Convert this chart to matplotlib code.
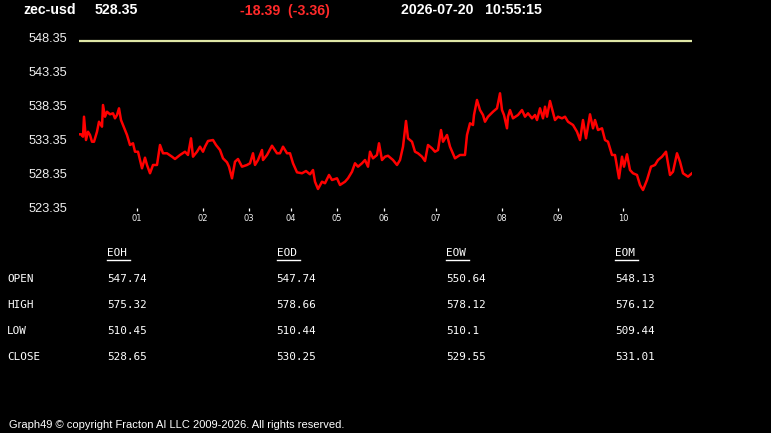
import matplotlib
matplotlib.use("Agg")
import matplotlib.pyplot as plt

# ---------------- data ----------------
symbol = "zec-usd"
last_price = "528.35"
change_text = "-18.39"
change_pct_text = "(-3.36)"
date_text = "2026-07-20"
time_text = "10:55:15"
open_level = 547.74

t = [0, 2, 4, 5, 7, 9, 11, 13, 15, 18,
     20, 23, 24, 26, 28, 31, 34, 36, 38, 40,
     42, 44, 48, 51, 54, 56, 59, 63, 66, 68,
     71, 74, 78, 81, 84, 88, 93, 96, 101, 106,
     109, 112, 114, 118, 121, 124, 126, 129, 134, 137,
     141, 144, 148, 150, 153, 156, 159, 163, 168, 171,
     174, 176, 179, 183, 184, 188, 193, 198, 201, 204,
     208, 211, 214, 218, 223, 227, 231, 234, 236, 239,
     243, 246, 250, 253, 258, 261, 266, 269, 273, 276,
     279, 283, 286, 289, 291, 294, 298, 300, 303, 306,
     309, 314, 318, 321, 324, 327, 329, 333, 336, 339,
     343, 346, 349, 353, 356, 359, 362, 364, 368, 371,
     376, 381, 386, 388, 391, 394, 395, 398, 401, 404,
     406, 409, 414, 418, 421, 423, 425, 428, 429, 431,
     434, 439, 443, 446, 449, 453, 456, 458, 461, 464,
     466, 468, 471, 476, 479, 483, 486, 489, 494, 498,
     501, 504, 507, 511, 514, 516, 519, 523, 526, 529,
     533, 536, 540, 543, 545, 548, 551, 554, 558, 561,
     564, 568, 572, 576, 579, 583, 587, 591, 594, 598,
     601, 604, 609, 613]

price = [534.04, 534.04, 533.69, 536.63, 533.20, 534.42, 533.94, 532.95, 532.95, 534.42,
         535.89, 535.16, 538.35, 536.63, 537.36, 536.98, 537.13, 536.39, 536.88, 537.86,
         536.14, 535.41, 533.94, 532.47, 532.72, 531.48, 531.48, 529.04, 530.60, 529.53,
         528.31, 529.53, 529.53, 532.47, 531.25, 531.25, 530.75, 530.41, 531.00, 531.48,
         531.00, 533.45, 530.75, 531.48, 532.22, 531.48, 532.22, 533.06, 533.20, 532.47,
         531.73, 530.51, 529.92, 529.28, 527.57, 530.01, 530.41, 529.28, 529.53, 529.78,
         531.25, 529.53, 530.26, 531.73, 530.26, 531.00, 532.36, 531.25, 531.25, 532.22,
         531.25, 531.25, 529.78, 528.45, 528.31, 528.64, 528.16, 528.79, 527.07, 526.00,
         527.07, 526.84, 528.06, 527.32, 527.57, 526.59, 527.07, 527.57, 528.54, 529.78,
         529.28, 529.78, 530.26, 529.28, 531.48, 530.51, 531.00, 532.72, 530.26, 530.75,
         530.89, 530.26, 529.53, 530.26, 532.22, 536.00, 533.45, 532.95, 531.48, 531.25,
         530.75, 530.11, 532.47, 531.98, 531.48, 531.73, 534.67, 532.95, 533.94, 532.22,
         530.51, 531.00, 531.00, 533.94, 535.66, 535.41, 536.88, 539.09, 537.61, 536.88,
         535.89, 536.63, 537.36, 537.86, 540.07, 537.61, 536.88, 534.92, 536.63, 537.61,
         536.39, 536.88, 537.61, 536.63, 537.13, 536.39, 536.88, 536.14, 537.86, 536.39,
         538.10, 536.63, 538.94, 536.14, 536.63, 536.39, 536.63, 535.89, 535.41, 534.42,
         533.20, 536.14, 533.45, 536.98, 534.92, 536.14, 534.67, 534.92, 533.20, 532.95,
         531.00, 531.00, 527.57, 530.75, 529.28, 531.10, 528.79, 528.31, 528.06, 526.59,
         525.85, 527.32, 529.28, 529.53, 530.26, 530.75, 531.48, 528.06, 528.54, 531.25,
         530.01, 528.31, 527.81, 528.31]

y_ticks = [523.35, 528.35, 533.35, 538.35, 543.35, 548.35]
x_tick_pos = [58, 124, 170, 212, 258, 305, 357, 423, 479, 544]
x_tick_labels = ["01", "02", "03", "04", "05", "06", "07", "08", "09", "10"]

table_cols = ["EOH", "EOD", "EOW", "EOM"]
table_rows = ["OPEN", "HIGH", "LOW", "CLOSE"]
table_values = [
    ["547.74", "547.74", "550.64", "548.13"],
    ["575.32", "578.66", "578.12", "576.12"],
    ["510.45", "510.44", "510.1", "509.44"],
    ["528.65", "530.25", "529.55", "531.01"],
]
footer = "Graph49 \u00a9 copyright Fracton AI LLC 2009-2026. All rights reserved."

# ---------------- figure ----------------
W, H = 771, 433
fig = plt.figure(figsize=(W / 100, H / 100), dpi=100, facecolor="black")

def fx(px):
    return px / W

def fy(py):
    return 1 - py / H

# axes placement (pixels)
ax_left, ax_right, ax_top, ax_bottom = 79, 692, 30, 208
ax = fig.add_axes([fx(ax_left), fy(ax_bottom), (ax_right - ax_left) / W, (ax_bottom - ax_top) / H])
ax.set_facecolor("black")
for s in ax.spines.values():
    s.set_visible(False)

px_per_unit = 6.8
ax.set_ylim(548.35 - (ax_bottom - 37) / px_per_unit, 548.35 + (37 - ax_top) / px_per_unit)
ax.set_xlim(0, ax_right - ax_left)

ax.axhline(open_level, color="#dfe7a6", lw=1.6)
ax.plot(t, price, color="#ff0000", lw=1.8, solid_joinstyle="round")

ax.set_yticks(y_ticks)
ax.set_yticklabels([f"{v:.2f}" for v in y_ticks])
ax.tick_params(axis="y", length=0, pad=8.5, labelsize=9.2, labelcolor="#f0f0f0")
for lab in ax.get_yticklabels():
    lab.set_fontfamily("Liberation Sans")

ax.set_xticks(x_tick_pos)
ax.set_xticklabels(x_tick_labels)
ax.tick_params(axis="x", length=2.5, width=0.9, color="white", pad=1.5,
               labelsize=6.0, labelcolor="#f0f0f0")

# header
hdr = dict(color="white", fontsize=10.2, fontweight="bold", family="Liberation Sans",
           va="baseline", ha="left")
base = 14.5
fig.text(fx(23), fy(base), symbol, **hdr)
fig.text(fx(94.5), fy(base), last_price, **hdr)
fig.text(fx(240), fy(base), f"{change_text}  {change_pct_text}", **{**hdr, "color": "#ff2a2a"})
fig.text(fx(400.5), fy(base), f"{date_text}   {time_text}", **hdr)

# table
mono = dict(color="white", fontsize=7.9, family="DejaVu Sans Mono", va="center", ha="left")
col_x = [107, 276.5, 446, 615]
row_y = [279, 304.5, 330.5, 356.5]
for cx, name in zip(col_x, table_cols):
    fig.text(fx(cx), fy(253), name, **mono)
    fig.lines.append(plt.Line2D([fx(cx), fx(cx + 23)], [fy(260), fy(260)],
                                transform=fig.transFigure, color="white", lw=1.0))
for ry, rname, vals in zip(row_y, table_rows, table_values):
    fig.text(fx(7), fy(ry), rname, **mono)
    for cx, v in zip(col_x, vals):
        fig.text(fx(cx), fy(ry), v, **mono)

# footer
fig.text(fx(9), fy(425), footer, color="white", fontsize=8.0, family="Liberation Sans",
         va="center", ha="left")

fig.savefig("out.png", dpi=100, facecolor="black")
